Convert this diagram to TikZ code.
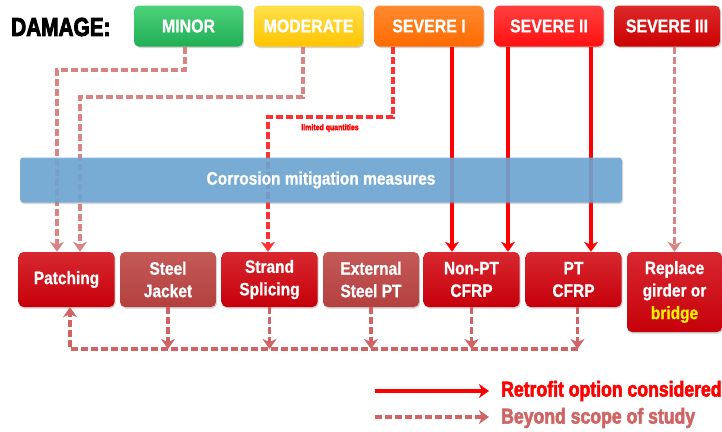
\documentclass[tikz,border=0pt]{standalone}
\usepackage{fontspec}
\usetikzlibrary{arrows.meta,shadows}
\newfontfamily\nf[FakeStretch=0.86,BoldFeatures={FakeBold=0.8}]{Liberation Sans}
\newfontfamily\hf[FakeStretch=0.8,BoldFeatures={FakeBold=3}]{Liberation Sans}
\newfontfamily\lf[FakeStretch=0.82,BoldFeatures={FakeBold=2.5}]{Liberation Sans}
\definecolor{cgreen}{HTML}{1FAF55}
\definecolor{cgreenT}{HTML}{4ED27C}
\definecolor{cyellow}{HTML}{FFC400}
\definecolor{cyellowT}{HTML}{FFE04A}
\definecolor{corange}{HTML}{FF6A00}
\definecolor{corangeT}{HTML}{FF8A30}
\definecolor{cred}{HTML}{FF1010}
\definecolor{credT}{HTML}{FF4040}
\definecolor{cdred}{HTML}{CC0000}
\definecolor{cdredT}{HTML}{DC2A2A}
\definecolor{boxred}{HTML}{C6000A}
\definecolor{boxredT}{HTML}{D82830}
\definecolor{boxpale}{HTML}{B3403F}
\definecolor{boxpaleT}{HTML}{C45A58}
\definecolor{paleline}{HTML}{D06464}
\definecolor{pinkline}{HTML}{D98484}
\definecolor{brightdash}{HTML}{FF3030}
\definecolor{solidred}{HTML}{FF0000}
\definecolor{barblue}{HTML}{6BA6D4}
\definecolor{textyellow}{HTML}{FFF000}
\tikzset{
  topbox/.style={rounded corners=5pt, minimum width=109pt, minimum height=41pt,
    inner sep=0pt, text=white, font=\nf\bfseries\fontsize{18.5}{18}\selectfont,
    drop shadow={shadow xshift=1pt,shadow yshift=-1.5pt,opacity=0.35}},
  botbox/.style={rounded corners=5pt, minimum width=96pt, minimum height=55pt,
    inner sep=0pt, text=white, align=center,
    font=\nf\bfseries\fontsize{18}{22.5}\selectfont,
    drop shadow={shadow xshift=1pt,shadow yshift=-1.5pt,opacity=0.35}},
  considered/.style={botbox, top color=boxredT, bottom color=boxred},
  beyond/.style={botbox, top color=boxpaleT, bottom color=boxpale},
  solidarrow/.style={draw=solidred, line width=3.5pt, -{Stealth[length=10pt,width=14pt,inset=3pt]}},
  dasharrow/.style={draw=paleline, line width=3.5pt, dash pattern=on 7pt off 3pt,
    -{Stealth[length=10pt,width=14pt,inset=3pt]}},
  pinkarrow/.style={dasharrow, draw=pinkline},
  brightarrow/.style={dasharrow, draw=brightdash},
}
\begin{document}
\begin{tikzpicture}[x=1pt,y=-1pt]
\useasboundingbox (0,0) rectangle (722,431);

% damage header
\node[anchor=west, inner sep=0pt, font=\hf\bfseries\fontsize{26}{26}\selectfont] (dmg) at (11,27) {DAMAGE:};
\node[topbox, top color=cgreenT, bottom color=cgreen] (minor) at (188.5,26) {MINOR};
\node[topbox, top color=cyellowT, bottom color=cyellow] (moderate) at (308.5,26) {MODERATE};
\node[topbox, top color=corangeT, bottom color=corange] (sev1) at (429,26) {SEVERE I};
\node[topbox, top color=credT, bottom color=cred] (sev2) at (549,26) {SEVERE II};
\node[topbox, top color=cdredT, bottom color=cdred, minimum width=106pt] (sev3) at (667,26) {SEVERE III};

% bottom boxes
\node[considered] (patch) at (66.5,279.5) {Patching};
\node[beyond] (jacket) at (168,279.5) {Steel\\Jacket};
\node[considered] (strand) at (269.5,279.5) {Strand\\Splicing};
\node[beyond] (ext) at (371,279.5) {External\\Steel PT};
\node[considered] (nonpt) at (471.5,279.5) {Non-PT\\CFRP};
\node[considered] (ptcfrp) at (573.5,279.5) {PT\\CFRP};
\node[considered, minimum height=80pt, minimum width=95pt] (repl) at (674.5,292) {Replace\\girder or\\\textcolor{textyellow}{bridge}};

% connectors from damage levels
\coordinate (c1) at (57,70);
\coordinate (c2) at (80,97);
\coordinate (c3) at (268,117);
\draw[pinkarrow] ([xshift=-3.5pt]minor.south) |- (c1) -- (c1 |- patch.north);
\draw[pinkarrow] ([xshift=-5.5pt]moderate.south) |- (c2) -- (c2 |- patch.north);
\draw[brightarrow] ([xshift=-36pt]sev1.south) |- (c3) -- (c3 |- strand.north);
\node[text=solidred, font=\lf\bfseries\fontsize{8.5}{8.5}\selectfont, inner sep=0pt] (lq) at (330,128) {limited quantities};
\draw[solidarrow] ([xshift=23pt]sev1.south) -- ([xshift=23pt]sev1.south |- nonpt.north);
\draw[solidarrow] ([xshift=-41pt]sev2.south) -- ([xshift=-41pt]sev2.south |- nonpt.north);
\draw[solidarrow] ([xshift=42pt]sev2.south) -- ([xshift=42pt]sev2.south |- ptcfrp.north);
\draw[pinkarrow] (sev3.south -| repl.north) -- (repl.north);

% corrosion mitigation bar
\node[fill=barblue, fill opacity=0.88, text opacity=1, rounded corners=3pt,
  minimum width=602pt, minimum height=45pt, inner sep=0pt, text=white,
  font=\nf\bfseries\fontsize{18}{18}\selectfont,
  drop shadow={shadow xshift=1pt,shadow yshift=-1.5pt,opacity=0.3}] (bar) at (321,180) {Corrosion mitigation measures};

% feedback loop
\coordinate (fb) at (70,349);
\draw[dasharrow] (jacket.south) -- (jacket.south |- fb);
\draw[dasharrow] (strand.south) -- (strand.south |- fb);
\draw[dasharrow] (ext.south) -- (ext.south |- fb);
\draw[dasharrow] (nonpt.south) -- (nonpt.south |- fb);
\draw[dasharrow] ([xshift=4pt]ptcfrp.south) -- ([xshift=4pt]ptcfrp.south |- fb);
\draw[dasharrow] ([xshift=4pt]ptcfrp.south |- fb) -- (fb) -- (fb |- patch.south);

% legend
\coordinate (l1a) at (375,391);
\coordinate (l1b) at (489,391);
\coordinate (l2a) at (375,417);
\coordinate (l2b) at (489,417);
\draw[solidarrow] (l1a) -- (l1b);
\draw[dasharrow] (l2a) -- (l2b);
\node[anchor=west, inner sep=0pt, text=solidred, font=\lf\bfseries\fontsize{21.5}{21.5}\selectfont] (t1) at (501,391) {Retrofit option considered};
\node[anchor=west, inner sep=0pt, text=paleline, font=\lf\bfseries\fontsize{21.5}{21.5}\selectfont] (t2) at (501,418) {Beyond scope of study};
\end{tikzpicture}
\end{document}
